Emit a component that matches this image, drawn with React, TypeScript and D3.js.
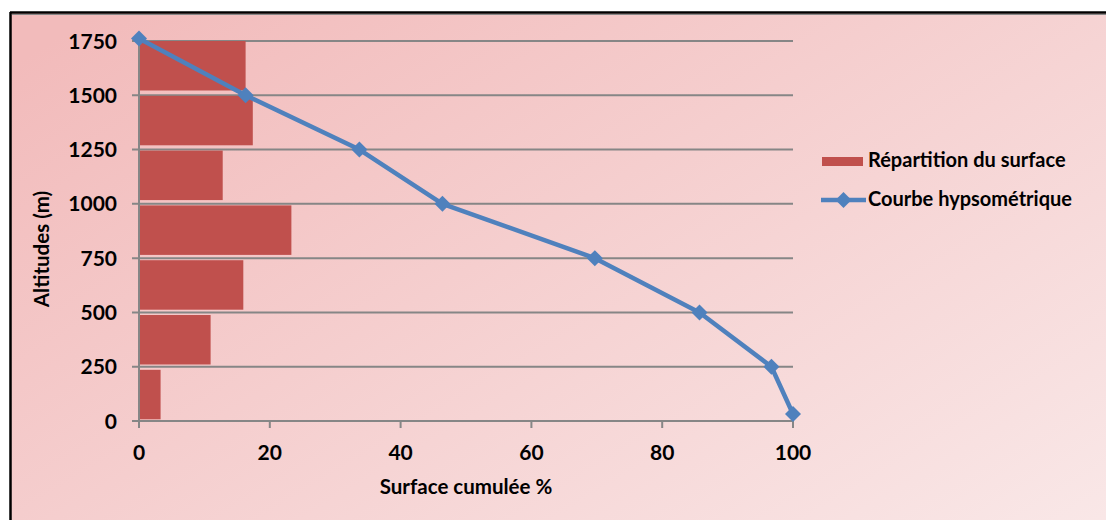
import React from "react";
import * as d3 from "d3";

const bandLabels = ["1500-1750", "1250-1500", "1000-1250", "750-1000", "500-750", "250-500", "0-250"];
const bandSurface = [16.3, 17.4, 12.8, 23.3, 15.95, 10.95, 3.3];

const curveSurface = [0, 16.3, 33.7, 46.4, 69.7, 85.7, 96.7, 100];
const curveAltitude = [1762, 1500, 1250, 1000, 750, 500, 250, 32];

const yTicks = [0, 250, 500, 750, 1000, 1250, 1500, 1750];
const xTicks = [0, 20, 40, 60, 80, 100];

const legendLabels = ["Répartition du surface", "Courbe hypsométrique"];
const xTitle = "Surface cumulée %";
const yTitle = "Altitudes (m)";

const W = 1106;
const H = 520;
const FONT = "Lato, 'Open Sans', sans-serif";
const BAR = "#c0504d";
const LINE = "#4f81bd";
const GRID = "#868686";

export default function App() {
  const x = d3.scaleLinear().domain([0, 100]).range([139, 793]);
  const y = d3.scaleLinear().domain([0, 1750]).range([421, 41]);
  const band = d3.scaleBand<string>().domain(bandLabels).range([41, 419.3]).paddingInner(0.097).paddingOuter(0);

  const pts = curveSurface.map((s, i) => [x(s), y(curveAltitude[i])] as [number, number]);
  const linePath = d3.line()(pts) || "";
  const diamond = (cx: number, cy: number, r: number) => `M${cx},${cy - r}L${cx + r},${cy}L${cx},${cy + r}L${cx - r},${cy}Z`;

  return (
    <div style={{ position: "absolute", left: 0, top: 0 }}>
      <svg width={W} height={H} style={{ display: "block" }}>
        <defs>
          <linearGradient id="bg" x1="0" y1="0.1" x2="1" y2="0.9">
            <stop offset="0" stopColor="#f2bbbb" />
            <stop offset="1" stopColor="#f9e7e7" />
          </linearGradient>
        </defs>
        <rect x={0} y={0} width={W} height={H} fill="#ffffff" />
        <rect x={10} y={12} width={W + 20} height={H + 20} fill="url(#bg)" />
        <line x1={10} y1={12.5} x2={W} y2={12.5} stroke="#000" strokeWidth={2.5} />
        <line x1={12} y1={14.5} x2={W} y2={14.5} stroke="#888" strokeWidth={1} />
        <line x1={10.5} y1={12} x2={10.5} y2={H} stroke="#000" strokeWidth={2.5} />

        {/* gridlines */}
        {yTicks.map((t) => (
          <line key={"g" + t} x1={132} x2={793} y1={y(t)} y2={y(t)} stroke={GRID} strokeWidth={2} />
        ))}
        {/* x ticks */}
        {xTicks.map((t) => (
          <line key={"xt" + t} x1={x(t)} x2={x(t)} y1={421} y2={428} stroke={GRID} strokeWidth={2} />
        ))}

        {/* bars */}
        {bandLabels.map((b, i) => (
          <rect key={b} x={x(0)} y={band(b)} width={x(bandSurface[i]) - x(0)} height={band.bandwidth()} fill={BAR} />
        ))}

        {/* y axis line */}
        <line x1={139} x2={139} y1={41} y2={428} stroke={GRID} strokeWidth={2} />

        {/* curve */}
        <path d={linePath} fill="none" stroke={LINE} strokeWidth={4.5} strokeLinejoin="round" />
        {pts.map((p, i) => (
          <path key={"d" + i} d={diamond(p[0], p[1], 8)} fill={LINE} />
        ))}

        {/* y tick labels */}
        {yTicks.map((t) => (
          <text key={"yl" + t} x={117} y={y(t)} dy="0.36em" textAnchor="end" fontFamily={FONT} fontWeight={700} fontSize={21} fill="#000">
            {t}
          </text>
        ))}
        {/* x tick labels */}
        {xTicks.map((t) => (
          <text key={"xl" + t} x={x(t)} y={452} dy="0.36em" textAnchor="middle" fontFamily={FONT} fontWeight={700} fontSize={21} fill="#000">
            {t}
          </text>
        ))}

        {/* axis titles */}
        <text x={(x(0) + x(100)) / 2} y={487} dy="0.36em" textAnchor="middle" fontFamily={FONT} fontWeight={700} fontSize={20.5} fill="#000">
          {xTitle}
        </text>
        <text transform={`translate(42,249) rotate(-90)`} dy="0.36em" textAnchor="middle" fontFamily={FONT} fontWeight={700} fontSize={20.5} fill="#000">
          {yTitle}
        </text>

        {/* legend */}
        <rect x={822} y={157} width={41} height={9} fill={BAR} />
        <text x={868} y={167} fontFamily={FONT} fontWeight={700} fontSize={20} fill="#000">
          {legendLabels[0]}
        </text>
        <line x1={821} x2={866} y1={200} y2={200} stroke={LINE} strokeWidth={4.5} />
        <path d={diamond(843.5, 200, 8)} fill={LINE} />
        <text x={868} y={206} fontFamily={FONT} fontWeight={700} fontSize={20} fill="#000">
          {legendLabels[1]}
        </text>
      </svg>
    </div>
  );
}
